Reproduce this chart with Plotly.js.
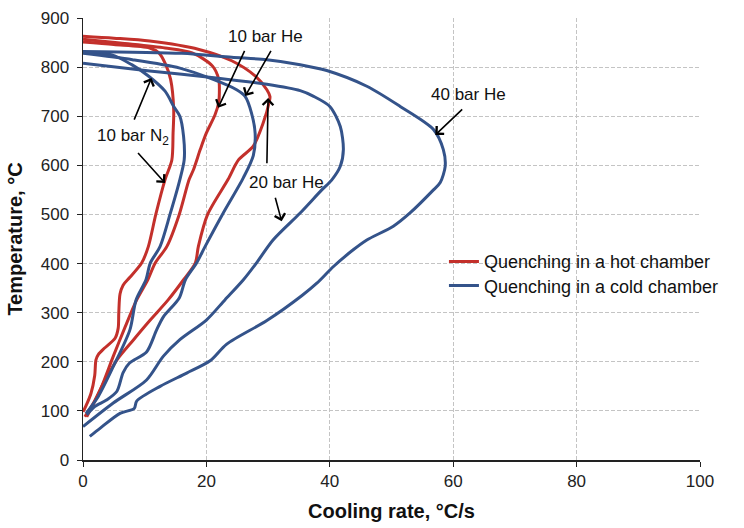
<!DOCTYPE html>
<html>
<head>
<meta charset="utf-8">
<script src="https://cdn.plot.ly/plotly-3.0.1.min.js"></script>
<style>html,body{margin:0;padding:0;background:#fff;}#chart{width:744px;height:528px;}</style>
</head>
<body>
<div id="chart"></div>
<script>
// Hot chamber (red)
const hotN2_10_x = [0,5,10.8,12.3,13.3,14.2,14.7,14.6,14.4,13.3,11.8,10.6,9.5,7.6,6.5,6.0,5.8,5.7,5.2,3.5,2.5,2.1,1.9,1.3,0.4,0];
const hotN2_10_y = [851,846,839,829,808,775,713,666,611,571,500,435,401,372,356,338,300,268,248,228,215,204,172,136,108,98];
const hotHe_10_x = [0,6,13.3,17.7,21.0,22.0,22.1,22.0,21.4,20.0,19.0,17.9,17.2,15.6,13.6,11.7,10.5,8.7,6.8,4.9,2.8,0.6];
const hotHe_10_y = [857,849,839,829,802,775,748,728,703,666,632,591,571,500,435,401,367,326,270,211,143,88];
const hotHe_20_x = [0,5,10.8,18.8,24.1,27.9,29.8,30.3,30.2,29.2,27.6,25.2,23.5,20.2,18.7,18.2,16.3,13.8,10.9,8.2,5.5,3.3,1.7,0.3];
const hotHe_20_y = [863,859,853,836,813,782,754,740,730,686,639,611,571,500,435,401,367,326,285,245,204,156,116,88];
// Cold chamber (blue)
const coldN2_10_x = [0,4.7,7.9,10.6,13.3,14.7,15.7,16.3,16.4,15.7,14.1,12.5,10.9,10.2,8.6,7.6,4.9,2.5,0.5];
const coldN2_10_y = [830,825,805,782,751,720,700,659,611,571,500,435,401,367,326,265,190,130,95];
const coldHe_10_x = [0,8,15.7,21.1,24.9,26.3,27.3,27.9,27.6,26.0,22.6,19.8,18.4,16.6,15.6,13.0,11.9,10.3,7.5,6.5,5.5,3.8,1.9,0.6];
const coldHe_10_y = [828,815,798,775,754,740,707,665,620,575,500,435,401,367,330,291,264,220,197,178,140,122,109,92];
const coldHe_20_x = [0,10.8,21.6,29.8,35.2,37.3,40.0,41.7,42.2,41.7,40.3,38.7,35.2,30.8,28.1,26.0,23.0,20.0,15.7,13.0,10.3,4.9,0];
const coldHe_20_y = [808,792,778,765,752,741,720,679,632,598,570,550,503,448,401,367,326,285,245,211,163,116,68];
const coldHe_40_x = [0,16,24.1,29.8,35.2,39.5,46.0,51.4,56.8,58.4,58.7,57.9,56.8,53.0,50.3,46.0,43.8,40.6,37.9,35.5,29.8,23.3,20.6,16.8,12.5,8.7,8.3,6.0,2.8,1.1];
const coldHe_40_y = [832,828,820,815,805,793,761,720,673,632,598,565,550,503,476,448,428,394,360,335,284,236,202,177,150,120,105,95,65,48];

const legendNames = ["Quenching in a hot chamber","Quenching in a cold chamber"];
const red = "#c3302b", blue = "#34538a";

function tr(x,y,color,grp,show){
  return {x:x,y:y,type:"scatter",mode:"lines",
    line:{color:color,width:3,shape:"spline",smoothing:0.8},
    legend:grp==="hot"?"legend":"legend2",
    legendgroup:grp,showlegend:show,name:grp==="hot"?legendNames[0]:legendNames[1],hoverinfo:"skip"};
}
const data = [
  tr(hotN2_10_x,hotN2_10_y,red,"hot",true),
  tr(hotHe_10_x,hotHe_10_y,red,"hot",false),
  tr(hotHe_20_x,hotHe_20_y,red,"hot",false),
  tr(coldN2_10_x,coldN2_10_y,blue,"cold",true),
  tr(coldHe_10_x,coldHe_10_y,blue,"cold",false),
  tr(coldHe_20_x,coldHe_20_y,blue,"cold",false),
  tr(coldHe_40_x,coldHe_40_y,blue,"cold",false)
];

const F = "Arial, 'Liberation Sans', sans-serif";
function arrow(x,y,ax,ay){
  return {x:x,y:y,ax:ax,ay:ay,xref:"x",yref:"y",axref:"x",ayref:"y",text:"",showarrow:true,
    arrowhead:4,arrowsize:1.3,arrowwidth:1.6,arrowcolor:"#000"};
}
function label(x,y,t){
  return {x:x,y:y,xref:"x",yref:"y",text:t,showarrow:false,font:{family:F,size:17,color:"#111"}};
}
const annotations = [
  label(29.5,863,"10 bar He"),
  arrow(21.9,717,26.3,836),
  arrow(26.3,741,30.6,836),
  label(8.1,658,"10 bar N<sub>2</sub>"),
  arrow(11.1,778,8.2,690),
  arrow(13.3,564,8.7,628),
  label(33.0,565,"20 bar He"),
  arrow(30.0,737,29.8,601),
  arrow(32.2,486,31.1,537),
  label(62.4,744,"40 bar He"),
  arrow(57.1,662,61.7,717)
];

const legStyle = {xanchor:"left",yanchor:"middle",bgcolor:"rgba(255,255,255,0)",
  font:{family:F,size:18,color:"#111"},borderwidth:0};
const layout = {
  width:744,height:528,
  margin:{l:83,r:44,t:18,b:68},
  paper_bgcolor:"#fff",plot_bgcolor:"#fff",
  font:{family:F,size:17,color:"#222"},
  xaxis:{range:[0,100],dtick:20,showline:true,linecolor:"#222",linewidth:1.5,
    ticks:"outside",ticklen:5,tickcolor:"#222",showgrid:true,gridcolor:"#c4c4c4",griddash:"4px,2px",gridwidth:1,
    zeroline:false,tickfont:{size:17,color:"#222"},
    title:{text:"<b>Cooling rate, °C/s</b>",font:{size:20,color:"#111"},standoff:14}},
  yaxis:{range:[0,900],dtick:100,showline:true,linecolor:"#222",linewidth:1.5,
    ticks:"outside",ticklen:5,tickcolor:"#222",showgrid:true,gridcolor:"#c4c4c4",griddash:"4px,2px",gridwidth:1,
    zeroline:false,tickfont:{size:17,color:"#222"},ticklabelstandoff:4,
    title:{text:"<b>Temperature, °C</b>",font:{size:20,color:"#111"},standoff:12}},
  legend:Object.assign({x:0.585,y:0.4485},legStyle),
  legend2:Object.assign({x:0.585,y:0.394},legStyle),
  annotations:annotations
};
Plotly.newPlot("chart",data,layout,{staticPlot:true,displayModeBar:false});
</script>
</body>
</html>
